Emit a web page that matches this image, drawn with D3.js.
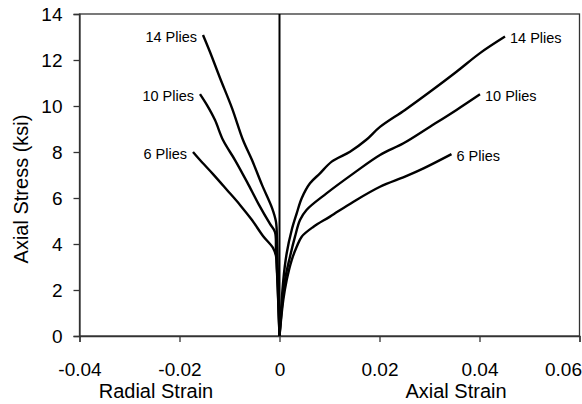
<!DOCTYPE html>
<html><head><meta charset="utf-8">
<script src="https://cdn.jsdelivr.net/npm/d3@7"></script>
<style>body{margin:0;background:#fff}svg{display:block}text{font-family:"Liberation Sans",Arial,sans-serif}</style>
</head><body><svg id="c" width="582" height="404"></svg>
<script>
const xTicks = [-0.04, -0.02, 0, 0.02, 0.04, 0.06];
const xTickLabels = ["-0.04", "-0.02", "0", "0.02", "0.04", "0.06"];
const yTicks = [0, 2, 4, 6, 8, 10, 12, 14];
const seriesNames = ["14 Plies", "10 Plies", "6 Plies"];

// Radial strain (negative) vs axial stress
const radial14x = [0, -0.0003, -0.0005, -0.0007, -0.0015, -0.0035, -0.0055, -0.0073, -0.0095, -0.0119, -0.0139, -0.0153];
const radial14y = [0, 2.43, 4.17, 4.96, 5.57, 6.57, 7.65, 8.52, 9.91, 11.22, 12.35, 13.09];
const radial10x = [0, -0.0004, -0.0007, -0.0009, -0.0019, -0.0041, -0.0065, -0.0089, -0.0113, -0.0129, -0.0145, -0.0159];
const radial10y = [0, 2.3, 3.74, 4.52, 4.87, 5.70, 6.70, 7.65, 8.52, 9.39, 10.04, 10.52];
const radial6x = [0, -0.0005, -0.0007, -0.0013, -0.0033, -0.0055, -0.0079, -0.0105, -0.0133, -0.0159, -0.0173];
const radial6y = [0, 2.87, 3.48, 3.83, 4.35, 5.04, 5.70, 6.35, 7.04, 7.65, 8.00];

// Axial strain vs axial stress
const axial14x = [0, 0.00076, 0.00144, 0.00244, 0.00344, 0.00444, 0.0061, 0.0081, 0.01044, 0.0141, 0.0173, 0.0201, 0.0251, 0.0301, 0.0354, 0.0401, 0.0451];
const axial14y = [0, 2.43, 3.60, 4.61, 5.33, 5.99, 6.64, 7.07, 7.58, 8.01, 8.52, 9.09, 9.83, 10.62, 11.49, 12.30, 13.02];
const axial10x = [0, 0.0011, 0.0021, 0.0031, 0.0041, 0.0054, 0.0094, 0.0148, 0.0201, 0.0248, 0.0301, 0.0354, 0.0401];
const axial10y = [0, 2.43, 3.45, 4.32, 5.04, 5.48, 6.20, 7.07, 7.87, 8.38, 9.10, 9.83, 10.51];
const axial6x = [0, 0.00076, 0.00144, 0.00244, 0.00344, 0.00444, 0.0068, 0.0101, 0.0148, 0.0201, 0.0251, 0.0288, 0.0344];
const axial6y = [0, 1.57, 2.43, 3.30, 3.88, 4.32, 4.75, 5.19, 5.84, 6.49, 6.93, 7.29, 7.91];

const svg = d3.select("#c");
const L = 79.5, R = 579.5, T = 14, B = 336;
const x = d3.scaleLinear().domain([-0.04, 0.06]).range([L, R]);
const y = d3.scaleLinear().domain([0, 14]).range([B, T]);

const frameColor = "#333";
svg.append("rect").attr("x", L).attr("y", T).attr("width", R - L).attr("height", B - T)
  .attr("fill", "none").attr("stroke", frameColor).attr("stroke-width", 1.3);

const xAxis = svg.append("g").attr("transform", `translate(0,${B})`)
  .call(d3.axisBottom(x).tickValues(xTicks).tickFormat((d, i) => xTickLabels[i]).tickSizeOuter(0).tickSize(6).tickPadding(21));
const yAxis = svg.append("g").attr("transform", `translate(${L},0)`)
  .call(d3.axisLeft(y).tickValues(yTicks).tickFormat(d3.format("d")).tickSizeOuter(0).tickSize(6).tickPadding(11));
[xAxis, yAxis].forEach(a => {
  a.select(".domain").attr("stroke", frameColor).attr("stroke-width", 1.3);
  a.selectAll(".tick line").attr("stroke", frameColor).attr("stroke-width", 1.3);
  a.selectAll(".tick text").attr("fill", "#000").style("font-size", "19px")
    .style("font-family", '"Liberation Sans", Arial, sans-serif');
});
xAxis.selectAll(".tick text").filter((d, i, n) => i === n.length - 1)
  .attr("text-anchor", "end").attr("dx", 2);

svg.append("line").attr("x1", x(0)).attr("x2", x(0)).attr("y1", y(14)).attr("y2", y(0))
  .attr("stroke", "#000").attr("stroke-width", 2);

const line = d3.line().x(d => x(d[0])).y(d => y(d[1])).curve(d3.curveCatmullRom.alpha(0.5));
const curves = [
  [radial14x, radial14y], [radial10x, radial10y], [radial6x, radial6y],
  [axial14x, axial14y], [axial10x, axial10y], [axial6x, axial6y]
];
curves.forEach(([xs, ys]) => {
  svg.append("path").datum(xs.map((v, i) => [v, ys[i]]))
    .attr("d", line).attr("fill", "none").attr("stroke", "#000")
    .attr("stroke-width", 2.4).attr("stroke-linejoin", "round");
});

const radialSets = [[radial14x, radial14y], [radial10x, radial10y], [radial6x, radial6y]];
const axialSets = [[axial14x, axial14y], [axial10x, axial10y], [axial6x, axial6y]];
radialSets.forEach(([xs, ys], i) => {
  const n = xs.length - 1;
  svg.append("text").attr("x", x(xs[n]) - 6).attr("y", y(ys[n]) + 3)
    .attr("text-anchor", "end").attr("dominant-baseline", "middle")
    .style("font-size", "14.5px").text(seriesNames[i]);
});
axialSets.forEach(([xs, ys], i) => {
  const n = xs.length - 1;
  svg.append("text").attr("x", x(xs[n]) + 5).attr("y", y(ys[n]) + 3)
    .attr("text-anchor", "start").attr("dominant-baseline", "middle")
    .style("font-size", "14.5px").text(seriesNames[i]);
});

svg.append("text").attr("x", 156).attr("y", 398).attr("text-anchor", "middle")
  .style("font-size", "20px").text("Radial Strain");
svg.append("text").attr("x", 456).attr("y", 398).attr("text-anchor", "middle")
  .style("font-size", "20px").text("Axial Strain");
svg.append("text").attr("transform", `translate(28,189) rotate(-90)`)
  .attr("text-anchor", "middle").style("font-size", "20px").text("Axial Stress (ksi)");
</script></body></html>
